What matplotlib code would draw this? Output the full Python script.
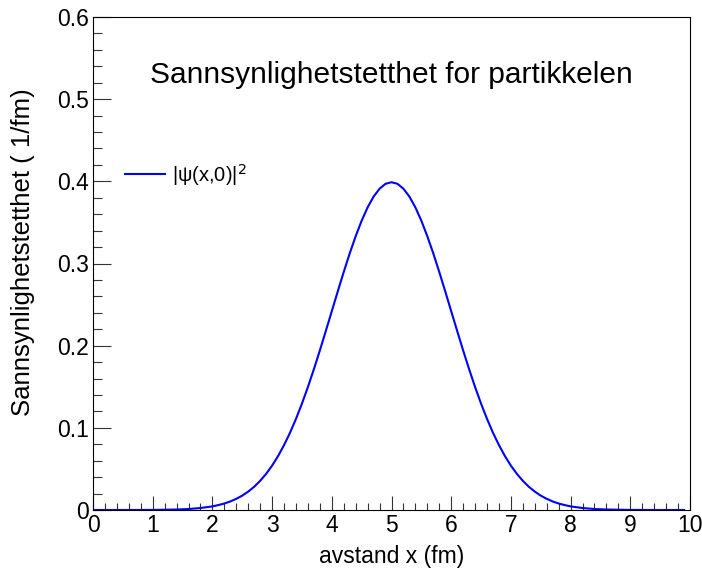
import matplotlib
matplotlib.use('Agg')
import matplotlib.pyplot as plt
from matplotlib.ticker import MultipleLocator

# Verdier lest av figuren (x i fm, tetthet i 1/fm)
x_verdier = [0.0, 0.5, 1.0, 1.4, 1.6, 1.8,
             2.0, 2.1, 2.2, 2.3, 2.4, 2.5, 2.6, 2.7, 2.8, 2.9,
             3.0, 3.1, 3.2, 3.3, 3.4, 3.5, 3.6, 3.7, 3.8, 3.9,
             4.0, 4.1, 4.2, 4.3, 4.4, 4.5, 4.6, 4.7, 4.8, 4.9,
             5.0, 5.1, 5.2, 5.3, 5.4, 5.5, 5.6, 5.7, 5.8, 5.9,
             6.0, 6.1, 6.2, 6.3, 6.4, 6.5, 6.6, 6.7, 6.8, 6.9,
             7.0, 7.1, 7.2, 7.3, 7.4, 7.5, 7.6, 7.7, 7.8, 7.9,
             8.0, 8.2, 8.4, 8.6, 9.0, 9.5, 9.9]
tetthet = [0.0, 0.0, 0.0001, 0.0006, 0.0012, 0.0024,
           0.0044, 0.0060, 0.0079, 0.0104, 0.0136, 0.0175, 0.0224, 0.0283, 0.0355, 0.0440,
           0.0540, 0.0656, 0.0790, 0.0940, 0.1109, 0.1295, 0.1497, 0.1714, 0.1942, 0.2179,
           0.2420, 0.2661, 0.2897, 0.3123, 0.3332, 0.3521, 0.3683, 0.3814, 0.3910, 0.3970,
           0.3989, 0.3970, 0.3910, 0.3814, 0.3683, 0.3521, 0.3332, 0.3123, 0.2897, 0.2661,
           0.2420, 0.2179, 0.1942, 0.1714, 0.1497, 0.1295, 0.1109, 0.0940, 0.0790, 0.0656,
           0.0540, 0.0440, 0.0355, 0.0283, 0.0224, 0.0175, 0.0136, 0.0104, 0.0079, 0.0060,
           0.0044, 0.0024, 0.0012, 0.0006, 0.0001, 0.0, 0.0]

y_ticks = [0, 0.1, 0.2, 0.3, 0.4, 0.5, 0.6]
y_ticklabels = ['0', '0.1', '0.2', '0.3', '0.4', '0.5', '0.6']

plt.rcParams['font.family'] = ['Liberation Sans', 'DejaVu Sans']

fig = plt.figure(figsize=(7.02, 5.72), dpi=100)
ax = fig.add_axes([93 / 702, 1 - 510 / 572, (690 - 93) / 702, (510 - 17) / 572])

ax.plot(x_verdier, tetthet, color='#0000ff', lw=1.5, label='|ψ(x,0)|$^{2}$')

ax.set_xlim(0, 10)
ax.set_ylim(0, 0.6)
ax.xaxis.set_major_locator(MultipleLocator(1))
ax.xaxis.set_minor_locator(MultipleLocator(0.2))
ax.set_yticks(y_ticks)
ax.set_yticklabels(y_ticklabels)
ax.yaxis.set_minor_locator(MultipleLocator(0.02))
ax.tick_params(which='both', direction='in', top=False, right=False, labelsize=16.5,
               color='#333333', width=0.8)
ax.tick_params(axis='y', which='major', length=13, pad=3)
ax.tick_params(axis='y', which='minor', length=6.5)
ax.tick_params(axis='x', which='major', length=10, pad=3)
ax.tick_params(axis='x', which='minor', length=5)

ax.set_xlabel('avstand x (fm)', fontsize=16.5, labelpad=6)
ax.set_ylabel('Sannsynlighetstetthet ( 1/fm)', fontsize=18.5)
ax.yaxis.set_label_coords(-0.097, 0.523)

ax.text(0.5, 0.882, 'Sannsynlighetstetthet for partikkelen', transform=ax.transAxes,
        ha='center', va='center', fontsize=21.5)

ax.legend(loc='center left', bbox_to_anchor=(0.053, 0.68), frameon=False, fontsize=14.5,
          handlelength=2.0, handletextpad=0.35, borderaxespad=0, borderpad=0)

plt.savefig('out.png', dpi=100)
